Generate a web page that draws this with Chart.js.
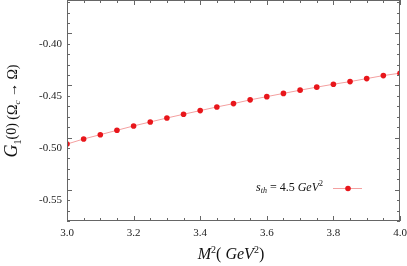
<!DOCTYPE html>
<html>
<head>
<meta charset="utf-8">
<script src="https://cdn.jsdelivr.net/npm/chart.js"></script>
<style>
  html, body { margin: 0; padding: 0; background: #fff; }
  #wrap { width: 407px; height: 266px; }
</style>
</head>
<body>
<div id="wrap"><canvas id="myChart" width="407" height="266"></canvas></div>
<script>
const massSq = [3.0, 3.05, 3.1, 3.15, 3.2, 3.25, 3.3, 3.35, 3.4, 3.45, 3.5,
  3.55, 3.6, 3.65, 3.7, 3.75, 3.8, 3.85, 3.9, 3.95, 4.0]
const g1Values = [-0.4962, -0.4913, -0.4872, -0.4830, -0.4788, -0.4750, -0.4712,
  -0.4676, -0.4641, -0.4606, -0.4574, -0.4538, -0.4507, -0.4476, -0.4445,
  -0.4416, -0.4388, -0.4363, -0.4334, -0.4305, -0.4282]
const xTicks = [3.0, 3.2, 3.4, 3.6, 3.8, 4.0]
const yTicks = [-0.55, -0.50, -0.45, -0.40]
const seriesLabel = 's_th = 4.5 GeV^2'

const serif = "'Liberation Serif', 'DejaVu Serif', serif"
const axisColor = '#666'

// draws text pieces: [text, size, italic, dy]
function drawPieces(ctx, pieces, x, y, align) {
  let total = 0
  pieces.forEach(p => {
    ctx.font = (p[2] ? 'italic ' : '') + p[1] + 'px ' + serif
    total += ctx.measureText(p[0]).width
  })
  let cx = align === 'center' ? x - total / 2 : x
  pieces.forEach(p => {
    ctx.font = (p[2] ? 'italic ' : '') + p[1] + 'px ' + serif
    ctx.fillText(p[0], cx, y + (p[3] || 0))
    cx += ctx.measureText(p[0]).width
  })
}

const framePlugin = {
  id: 'frame',
  afterDraw(chart) {
    const { ctx, chartArea: a, scales } = chart
    const xs = scales.x
    const ys = scales.y
    ctx.save()
    ctx.strokeStyle = axisColor
    ctx.lineWidth = 1
    ctx.strokeRect(a.left + 0.5, a.top + 0.5, a.right - a.left - 1, a.bottom - a.top - 1)

    // inward ticks on all four sides
    ctx.beginPath()
    for (let i = 0; i <= 20; i++) {
      const v = 3 + i * 0.05
      const px = Math.round(xs.getPixelForValue(v)) + 0.5
      const len = i % 4 === 0 ? 5 : 3
      ctx.moveTo(px, a.bottom); ctx.lineTo(px, a.bottom - len)
      ctx.moveTo(px, a.top); ctx.lineTo(px, a.top + len)
    }
    for (let i = 0; i <= 21; i++) {
      const v = -0.57 + i * 0.01
      const py = Math.round(ys.getPixelForValue(v)) + 0.5
      const len = (i + 2) % 5 === 0 ? 5 : 3
      ctx.moveTo(a.left, py); ctx.lineTo(a.left + len, py)
      ctx.moveTo(a.right, py); ctx.lineTo(a.right - len, py)
    }
    ctx.stroke()

    // axis titles
    ctx.fillStyle = '#111'
    ctx.textBaseline = 'alphabetic'
    drawPieces(ctx, [['M', 16, true], ['2', 10, false, -6], ['( ', 16, false],
      ['GeV', 16, true], ['2', 10, false, -6], [')', 16, false]], 231, 259, 'center')

    ctx.save()
    ctx.translate(17, 111)
    ctx.rotate(-Math.PI / 2)
    drawPieces(ctx, [['G', 18, true], ['1', 10, false, 4], ['(0)', 14, false, -1],
      [' (Ω', 14, false], ['c', 9, true, 3], [' → Ω)', 14, false]], 0, 0, 'center')
    ctx.restore()

    // legend
    const ly = 188
    ctx.textBaseline = 'middle'
    drawPieces(ctx, [['s', 12, true], ['th', 8, true, 3], [' = 4.5 ', 12, false],
      ['GeV', 12, true], ['2', 8, false, -4]], 256, ly, 'left')
    ctx.strokeStyle = '#f4a0a0'
    ctx.beginPath()
    ctx.moveTo(333, ly + 0.5); ctx.lineTo(362, ly + 0.5)
    ctx.stroke()
    ctx.fillStyle = '#e8161b'
    ctx.beginPath()
    ctx.arc(348, ly + 0.5, 2.8, 0, Math.PI * 2)
    ctx.fill()
    ctx.restore()
  }
}

const ctx = document.getElementById('myChart').getContext('2d')
const myChart = new Chart(ctx, {
  type: 'line',
  data: {
    datasets: [{
      label: seriesLabel,
      data: massSq.map((m, i) => ({ x: m, y: g1Values[i] })),
      borderColor: '#f4a0a0',
      borderWidth: 1,
      backgroundColor: '#e8161b',
      pointBackgroundColor: '#e8161b',
      pointBorderWidth: 0,
      pointRadius: 2.8,
      tension: 0
    }]
  },
  options: {
    responsive: false,
    animation: false,
    layout: { autoPadding: false, padding: { left: 0, right: 7, top: 0, bottom: 0 } },
    plugins: { legend: { display: false }, tooltip: { enabled: false } },
    scales: {
      x: {
        type: 'linear',
        min: 3.0,
        max: 4.0,
        afterBuildTicks: s => { s.ticks = xTicks.map(v => ({ value: v })) },
        afterFit: s => { s.height = 45; s.paddingLeft = 0; s.paddingRight = 0 },
        grid: { display: false, drawTicks: false },
        border: { display: false },
        ticks: {
          padding: 6,
          color: '#222',
          font: { family: serif, size: 11 },
          maxRotation: 0,
          callback: v => v.toFixed(1)
        }
      },
      y: {
        type: 'linear',
        min: -0.57,
        max: -0.358,
        afterBuildTicks: s => { s.ticks = yTicks.map(v => ({ value: v })) },
        afterFit: s => { s.width = 67; s.paddingTop = 0; s.paddingBottom = 0 },
        grid: { display: false, drawTicks: false },
        border: { display: false },
        ticks: {
          padding: 5,
          color: '#222',
          font: { family: serif, size: 11 },
          callback: v => v.toFixed(2)
        }
      }
    }
  },
  plugins: [framePlugin]
})
</script>
</body>
</html>
